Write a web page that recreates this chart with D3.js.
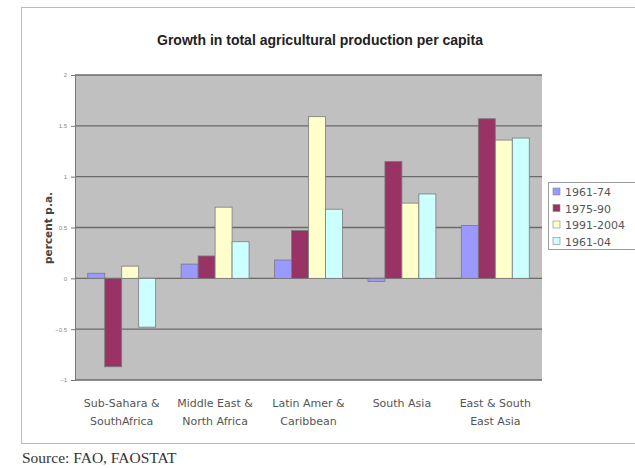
<!DOCTYPE html>
<html>
<head>
<meta charset="utf-8">
<script src="https://cdn.jsdelivr.net/npm/d3@7"></script>
<style>
  body { margin: 0; background: #fff; }
  svg { display: block; font-family: "DejaVu Sans", Verdana, sans-serif; }
</style>
</head>
<body>
<div id="chart"></div>
<script>
const regions = [
  ["Sub-Sahara &", "SouthAfrica"],
  ["Middle East &", "North Africa"],
  ["Latin Amer &", "Caribbean"],
  ["South Asia"],
  ["East & South", "East Asia"]
];
const periods = ["1961-74", "1975-90", "1991-2004", "1961-04"];
const colors = ["#9999ff", "#993366", "#ffffcc", "#ccffff"];

// growth, percent p.a., one array per period
const p1961_74 = [0.05, 0.14, 0.18, -0.03, 0.52];
const p1975_90 = [-0.87, 0.22, 0.47, 1.15, 1.57];
const p1991_04 = [0.12, 0.70, 1.59, 0.74, 1.36];
const p1961_04 = [-0.48, 0.36, 0.68, 0.83, 1.38];
const series = [p1961_74, p1975_90, p1991_04, p1961_04];

const yTicks = [-1, -0.5, 0, 0.5, 1, 1.5, 2];

const width = 635, height = 469;
const plot = { left: 75, right: 542, top: 75, bottom: 380 };

const svg = d3.select("#chart").append("svg")
  .attr("width", width)
  .attr("height", height);

// chart area frame
svg.append("rect")
  .attr("x", 21.5).attr("y", 7.5)
  .attr("width", 640).attr("height", 436)
  .attr("fill", "#fff")
  .attr("stroke", "#bbb");

svg.append("text")
  .attr("x", 320).attr("y", 45)
  .attr("text-anchor", "middle")
  .attr("font-family", "'Liberation Sans', Arial, sans-serif")
  .attr("font-size", 14)
  .attr("font-weight", "bold")
  .attr("fill", "#222")
  .text("Growth  in total agricultural production per capita");

const x0 = d3.scaleBand()
  .domain(d3.range(regions.length))
  .range([plot.left, plot.right]);

// Excel-style gap width of 150%
const x1 = d3.scaleBand()
  .domain(d3.range(periods.length))
  .range([0, x0.bandwidth()])
  .paddingInner(0)
  .paddingOuter(0.75);

const y = d3.scaleLinear()
  .domain([-1, 2])
  .range([plot.bottom, plot.top]);

svg.append("rect")
  .attr("x", plot.left).attr("y", plot.top)
  .attr("width", plot.right - plot.left)
  .attr("height", plot.bottom - plot.top)
  .attr("fill", "#c0c0c0");

// gridlines
svg.append("g")
  .selectAll("line")
  .data(yTicks)
  .join("line")
  .attr("x1", plot.left).attr("x2", plot.right)
  .attr("y1", d => y(d)).attr("y2", d => y(d))
  .attr("stroke", "#6a6a6a")
  .attr("stroke-width", 1.4);

// bars
const groups = svg.append("g")
  .selectAll("g")
  .data(regions)
  .join("g")
  .attr("transform", (d, i) => `translate(${x0(i)},0)`);

groups.selectAll("rect")
  .data((d, i) => series.map((s, k) => ({ k, v: s[i] })))
  .join("rect")
  .attr("x", d => x1(d.k))
  .attr("width", x1.bandwidth())
  .attr("y", d => y(Math.max(0, d.v)))
  .attr("height", d => Math.abs(y(d.v) - y(0)))
  .attr("fill", d => colors[d.k])
  .attr("stroke", "#7a7a7a")
  .attr("stroke-width", 0.8);

// y axis
const yAxis = svg.append("g")
  .attr("transform", `translate(${plot.left},0)`)
  .call(d3.axisLeft(y).tickValues(yTicks).tickSize(4).tickFormat(d3.format("")));
yAxis.select(".domain").attr("stroke", "#777");
yAxis.selectAll(".tick line").attr("stroke", "#777");
yAxis.selectAll(".tick text")
  .attr("font-size", 6)
  .attr("fill", "#888")
  .attr("x", -8);

svg.append("text")
  .attr("transform", "translate(52,228) rotate(-90)")
  .attr("text-anchor", "middle")
  .attr("font-size", 10.5)
  .attr("font-weight", "bold")
  .attr("fill", "#444")
  .text("percent p.a.");

// category labels
const cat = svg.append("g")
  .selectAll("text")
  .data(regions)
  .join("text")
  .attr("x", (d, i) => x0(i) + x0.bandwidth() / 2)
  .attr("y", 407)
  .attr("text-anchor", "middle")
  .attr("font-size", 11)
  .attr("fill", "#555");
cat.selectAll("tspan")
  .data(d => d)
  .join("tspan")
  .attr("x", function () { return this.parentNode.getAttribute("x"); })
  .attr("dy", (d, i) => i === 0 ? 0 : 18)
  .text(d => d);

// legend
const legend = svg.append("g").attr("transform", "translate(548,182)");
legend.append("rect")
  .attr("x", 0.5).attr("y", 0.5)
  .attr("width", 90).attr("height", 67)
  .attr("fill", "#fff")
  .attr("stroke", "#999");
const item = legend.selectAll("g.item")
  .data(periods)
  .join("g")
  .attr("class", "item")
  .attr("transform", (d, i) => `translate(5,${6 + i * 16.5})`);
item.append("rect")
  .attr("width", 7).attr("height", 7)
  .attr("fill", (d, i) => colors[i])
  .attr("stroke", "#888")
  .attr("stroke-width", 0.6);
item.append("text")
  .attr("x", 12).attr("y", 8)
  .attr("font-size", 11)
  .attr("fill", "#555")
  .text(d => d);

svg.append("text")
  .attr("x", 22).attr("y", 463)
  .attr("font-family", "'Liberation Serif', 'Times New Roman', serif")
  .attr("font-size", 15.5)
  .attr("fill", "#333")
  .text("Source: FAO, FAOSTAT");
</script>
</body>
</html>
